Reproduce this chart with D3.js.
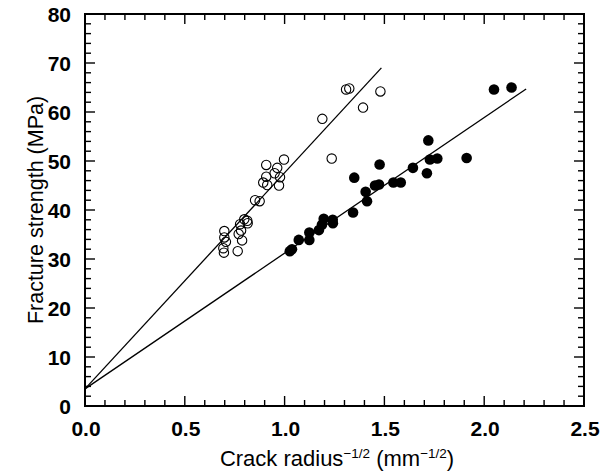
<!DOCTYPE html>
<html><head><meta charset="utf-8">
<script src="https://cdn.jsdelivr.net/npm/d3@7"></script>
<style>body{margin:0;background:#fff}svg{display:block}</style>
</head><body>
<script>
const openX = [1.308,1.324,1.480,1.393,1.189,1.236,0.997,0.908,0.963,0.950,0.977,0.908,0.893,0.913,0.972,0.852,0.875,0.798,0.813,0.777,0.815,0.782,0.698,0.770,0.698,0.706,0.787,0.693,0.696,0.765];
const openY = [64.6,64.8,64.2,60.9,58.6,50.5,50.3,49.2,48.6,47.5,46.7,46.8,45.6,45.1,45.0,42.0,41.8,38.1,37.8,37.1,37.3,35.8,35.7,35.1,34.4,33.5,33.8,32.2,31.3,31.6];
const filledX = [2.049,2.137,1.720,1.728,1.765,1.912,1.713,1.643,1.476,1.349,1.453,1.473,1.545,1.582,1.406,1.413,1.343,1.196,1.241,1.187,1.242,1.172,1.124,1.124,1.071,1.037,1.026];
const filledY = [64.6,65.0,54.2,50.3,50.5,50.6,47.5,48.6,49.3,46.6,45.0,45.2,45.6,45.6,43.7,41.8,39.5,38.2,38.0,37.0,37.3,35.9,35.4,33.9,33.9,32.0,31.6];
const openFit = [[0,3.5],[1.485,69.0]];
const filledFit = [[0,3.5],[2.21,64.7]];
const xTicks = [0,0.5,1.0,1.5,2.0,2.5];
const yTicks = [0,10,20,30,40,50,60,70,80];

const W=616,H=472, L=85,R=584,T=14,B=406;
const FONT='"Liberation Sans",Arial,Helvetica,sans-serif';
const svg=d3.select("body").append("svg").attr("width",W).attr("height",H)
  .style("font-family",FONT);
const x=d3.scaleLinear().domain([0,2.5]).range([L,R]);
const y=d3.scaleLinear().domain([0,80]).range([B,T]);

const minorX=d3.range(0,2.5001,0.1), minorY=d3.range(0,80.001,2);
const majLen=10, minLen=6;
const g=svg.append("g").attr("stroke","#000").attr("stroke-width",1.4);
minorX.forEach(v=>{
  const isMaj=Math.abs(v*2-Math.round(v*2))<1e-6; const len=isMaj?majLen:minLen;
  g.append("line").attr("x1",x(v)).attr("x2",x(v)).attr("y1",B).attr("y2",B-len);
  g.append("line").attr("x1",x(v)).attr("x2",x(v)).attr("y1",T).attr("y2",T+len);
});
minorY.forEach(v=>{
  const isMaj=Math.abs(v%10)<1e-6; const len=isMaj?majLen:minLen;
  g.append("line").attr("y1",y(v)).attr("y2",y(v)).attr("x1",L).attr("x2",L+len);
  g.append("line").attr("y1",y(v)).attr("y2",y(v)).attr("x1",R).attr("x2",R-len);
});
svg.append("rect").attr("x",L).attr("y",T).attr("width",R-L).attr("height",B-T)
  .attr("fill","none").attr("stroke","#000").attr("stroke-width",2);

svg.selectAll(".xt").data(xTicks).enter().append("text")
  .attr("x",d=>x(d)+1).attr("y",436).attr("text-anchor","middle").attr("fill","#000")
  .attr("font-size",21).attr("font-weight","bold").text(d=>d.toFixed(1));
svg.selectAll(".yt").data(yTicks).enter().append("text")
  .attr("x",71).attr("y",d=>y(d)+7.5).attr("text-anchor","end").attr("fill","#000")
  .attr("font-size",21).attr("font-weight","bold").text(d=>d);

const line=d3.line().x(d=>x(d[0])).y(d=>y(d[1]));
[openFit,filledFit].forEach(f=>svg.append("path").attr("d",line(f)).attr("fill","none").attr("stroke","#000").attr("stroke-width",1.3));

svg.selectAll(".op").data(openX.map((v,i)=>[v,openY[i]])).enter().append("circle")
  .attr("cx",d=>x(d[0])).attr("cy",d=>y(d[1])).attr("r",4.7)
  .attr("fill","none").attr("stroke","#000").attr("stroke-width",1.1);
svg.selectAll(".fp").data(filledX.map((v,i)=>[v,filledY[i]])).enter().append("circle")
  .attr("cx",d=>x(d[0])).attr("cy",d=>y(d[1])).attr("r",5.3).attr("fill","#000");

const xt=svg.append("text").attr("x",337).attr("y",466).attr("text-anchor","middle")
  .attr("font-size",22).attr("fill","#000");
xt.append("tspan").text("Crack radius");
xt.append("tspan").attr("font-size",13.5).attr("dy",-8).text("\u22121/2");
xt.append("tspan").attr("dy",8).text(" (mm");
xt.append("tspan").attr("font-size",13.5).attr("dy",-8).text("\u22121/2");
xt.append("tspan").attr("dy",8).text(")");

svg.append("text").attr("transform","translate(43,210) rotate(-90)").attr("text-anchor","middle")
  .attr("font-size",21.5).attr("fill","#000").text("Fracture strength (MPa)");
</script>
</body></html>
